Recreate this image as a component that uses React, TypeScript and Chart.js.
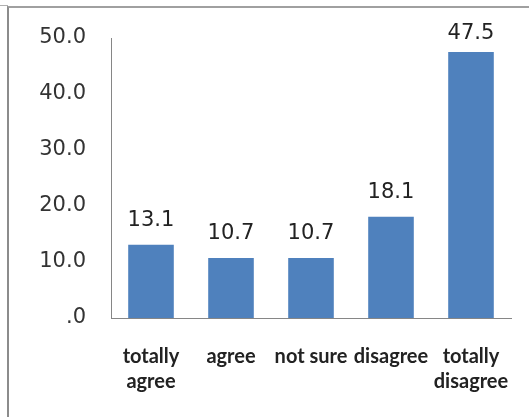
import React, { useEffect, useRef } from "react";
import { Chart, registerables } from "chart.js";

Chart.register(...registerables);

const categories: (string | string[])[] = [
  ["totally", "agree"],
  "agree",
  "not sure",
  "disagree",
  ["totally", "disagree"],
];
const values: number[] = [13.1, 10.7, 10.7, 18.1, 47.5];
const yTicks: number[] = [0, 10, 20, 30, 40, 50];

const valueLabels = {
  id: "valueLabels",
  afterDatasetsDraw(chart: any) {
    const { ctx, chartArea } = chart;
    const meta = chart.getDatasetMeta(0);
    ctx.save();
    ctx.font = "21px 'DejaVu Sans'";
    ctx.fillStyle = "#222222";
    ctx.textAlign = "center";
    ctx.textBaseline = "alphabetic";
    meta.data.forEach((bar: any, i: number) => {
      const y = Math.max(bar.y - 19, chartArea.top + 1);
      ctx.fillText(values[i].toFixed(1), bar.x, y);
    });
    ctx.restore();
  },
};

export default function App() {
  const ref = useRef<HTMLCanvasElement>(null);
  useEffect(() => {
    if (!ref.current) return;
    const chart = new Chart(ref.current, {
      type: "bar",
      data: {
        labels: categories,
        datasets: [
          {
            data: values,
            backgroundColor: "#4F81BD",
            borderWidth: 0,
            barPercentage: 0.57,
            categoryPercentage: 1,
          },
        ],
      },
      options: {
        animation: false,
        responsive: false,
        maintainAspectRatio: false,
        layout: { padding: { left: 0, right: 18, top: 38, bottom: 0 } },
        plugins: { legend: { display: false }, tooltip: { enabled: false } },
        scales: {
          x: {
            grid: { display: false, drawTicks: false },
            border: { display: true, color: "#868686", width: 1 },
            ticks: {
              color: "#222222",
              font: { family: "Lato", size: 20, weight: "bold", lineHeight: "25px" },
              padding: 26,
              maxRotation: 0,
              autoSkip: false,
            },
            afterFit: (s: any) => {
              s.height = 99;
              s.paddingLeft = 0;
              s.paddingRight = 0;
            },
          },
          y: {
            min: 0,
            max: 50,
            afterBuildTicks: (s: any) => {
              s.ticks = yTicks.map((v) => ({ value: v }));
            },
            grid: { display: false, drawTicks: false },
            border: { display: true, color: "#868686", width: 1 },
            ticks: {
              color: "#333333",
              font: { family: "DejaVu Sans", size: 21 },
              padding: 25,
              callback: (v: any) => (Number(v) === 0 ? ".0" : Number(v).toFixed(1)),
            },
            afterFit: (s: any) => {
              s.width = 111;
              s.paddingTop = 0;
              s.paddingBottom = 0;
            },
          },
        },
      },
      plugins: [valueLabels],
    });
    return () => chart.destroy();
  }, []);

  return (
    <div style={{ position: "fixed", left: 0, top: 0, width: 529, height: 417, background: "#fff" }}>
      <div
        style={{
          position: "absolute",
          left: 0,
          top: 5,
          width: 8,
          height: 0,
          borderTop: "1px solid #b0b0b0",
        }}
      />
      <div
        style={{
          position: "absolute",
          left: 7,
          top: 6,
          right: 0,
          bottom: 0,
          borderTop: "2px solid #a0a0a0",
          borderLeft: "2px solid #8c8c8c",
        }}
      />
      <canvas ref={ref} width={529} height={417} style={{ position: "absolute", left: 0, top: 0 }} />
    </div>
  );
}
